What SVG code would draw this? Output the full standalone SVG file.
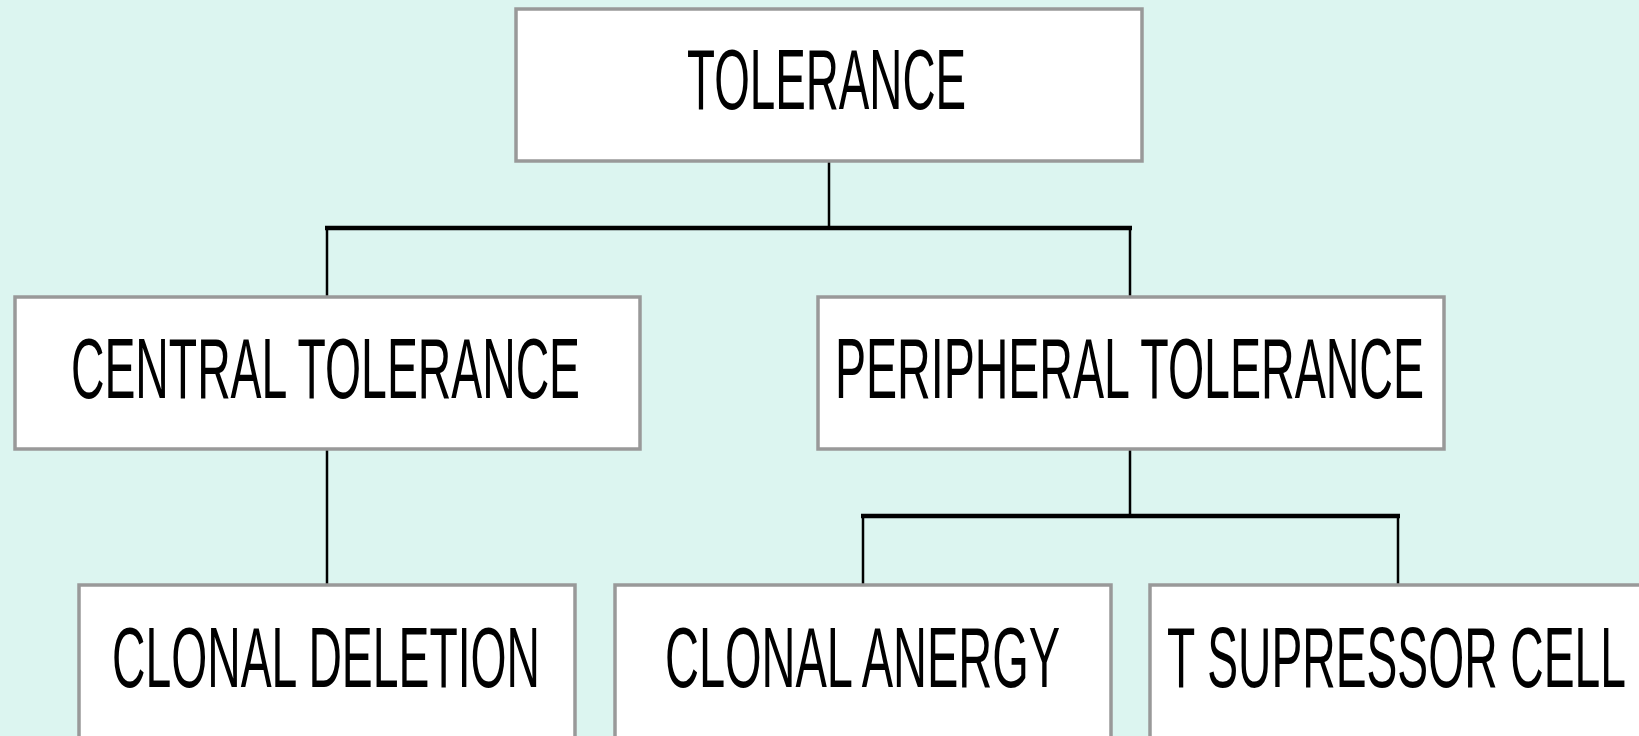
<svg xmlns="http://www.w3.org/2000/svg" width="1639" height="736" viewBox="0 0 1639 736">
<style>
.box{fill:#ffffff;stroke:#999999;stroke-width:3.5}
.lbl{font-family:"Liberation Sans Narrow","Liberation Sans",Arial,sans-serif;font-size:56px;fill:#000000;text-anchor:start}
.v{stroke:#000000;stroke-width:2.5;fill:none}
.h{stroke:#000000;stroke-width:4.5;fill:none}
</style>
<rect x="0" y="0" width="1639" height="736" fill="#DCF5F0"/>
<g id="connectors">
<line class="v" x1="829" y1="161" x2="829" y2="228"/>
<line class="h" x1="325" y1="228" x2="1132" y2="228"/>
<line class="v" x1="327" y1="228" x2="327" y2="296"/>
<line class="v" x1="1130" y1="228" x2="1130" y2="296"/>
<line class="v" x1="327" y1="450" x2="327" y2="584"/>
<line class="v" x1="1130" y1="450" x2="1130" y2="516"/>
<line class="h" x1="861" y1="516" x2="1400" y2="516"/>
<line class="v" x1="863" y1="516" x2="863" y2="584"/>
<line class="v" x1="1398" y1="516" x2="1398" y2="584"/>
</g>
<g id="tolerance">
<rect class="box" x="516" y="9" width="626" height="152"/>
<text class="lbl" transform="translate(687,109) scale(1,1.52)" x="0" y="0" textLength="279" lengthAdjust="spacingAndGlyphs">TOLERANCE</text>
</g>
<g id="central">
<rect class="box" x="15" y="297" width="625" height="152"/>
<text class="lbl" transform="translate(71,398) scale(1,1.52)" x="0" y="0" textLength="509" lengthAdjust="spacingAndGlyphs">CENTRAL TOLERANCE</text>
</g>
<g id="peripheral">
<rect class="box" x="818" y="297" width="626" height="152"/>
<text class="lbl" transform="translate(835,398) scale(1,1.52)" x="0" y="0" textLength="589" lengthAdjust="spacingAndGlyphs">PERIPHERAL TOLERANCE</text>
</g>
<g id="deletion">
<rect class="box" x="79" y="585" width="496" height="170"/>
<text class="lbl" transform="translate(112,687) scale(1,1.52)" x="0" y="0" textLength="428" lengthAdjust="spacingAndGlyphs">CLONAL DELETION</text>
</g>
<g id="anergy">
<rect class="box" x="615" y="585" width="496" height="170"/>
<text class="lbl" transform="translate(665,687) scale(1,1.52)" x="0" y="0" textLength="395" lengthAdjust="spacingAndGlyphs">CLONAL ANERGY</text>
</g>
<g id="suppressor">
<rect class="box" x="1150" y="585" width="500" height="170"/>
<text class="lbl" transform="translate(1167,687) scale(1,1.52)" x="0" y="0" textLength="459" lengthAdjust="spacingAndGlyphs">T SUPRESSOR CELL</text>
</g>
</svg>
